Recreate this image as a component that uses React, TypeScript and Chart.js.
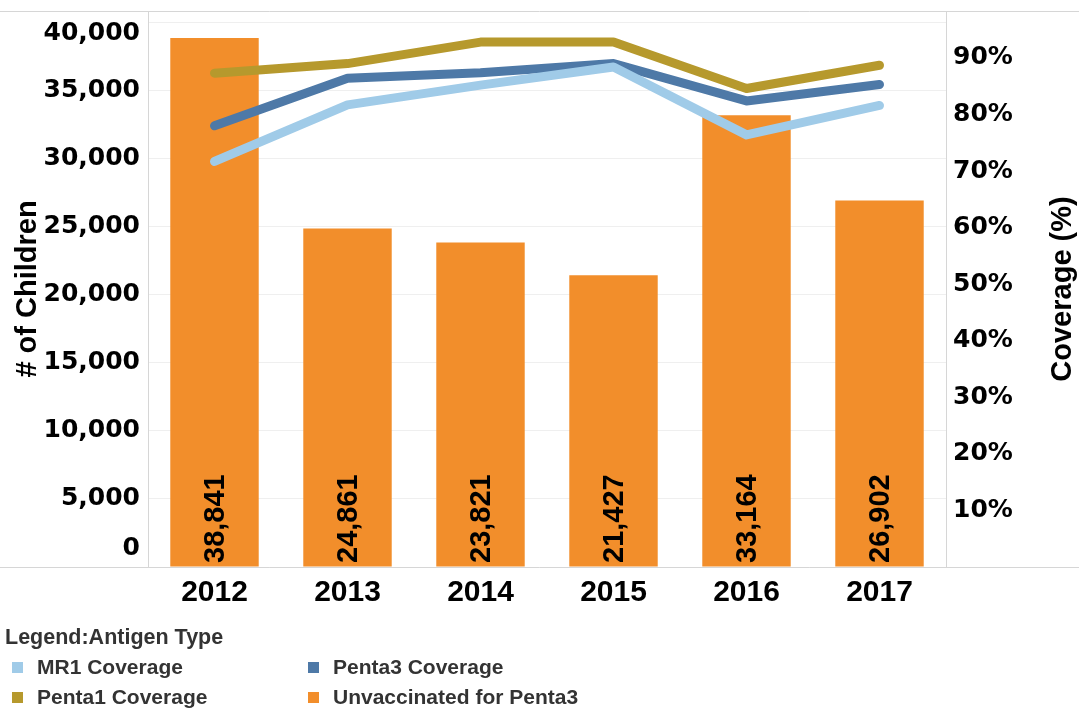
import React, { useEffect, useRef } from 'react';
import { Chart, registerables } from 'chart.js';

Chart.register(...registerables);

const categories = ['2012', '2013', '2014', '2015', '2016', '2017'];
const unvaccinatedPenta3 = [38841, 24861, 23821, 21427, 33164, 26902];
const mr1Coverage = [71.7, 81.7, 85.2, 88.4, 76.4, 81.6];
const penta3Coverage = [78.0, 86.4, 87.4, 89.0, 82.4, 85.3];
const penta1Coverage = [87.3, 89.0, 92.8, 92.8, 84.6, 88.7];

const leftTickValues = [0, 5000, 10000, 15000, 20000, 25000, 30000, 35000, 40000];
const rightTickValues = [10, 20, 30, 40, 50, 60, 70, 80, 90];

const leftAxisTitle = '# of Children';
const rightAxisTitle = 'Coverage (%)';
const legendTitle = 'Legend:Antigen Type';
const legendItems = [
  { label: 'MR1 Coverage', color: '#A0CBE8' },
  { label: 'Penta3 Coverage', color: '#4E79A7' },
  { label: 'Penta1 Coverage', color: '#B6992D' },
  { label: 'Unvaccinated for Penta3', color: '#F28E2B' },
];

const COLORS = {
  bar: '#F28E2B',
  mr1: '#A0CBE8',
  penta3: '#4E79A7',
  penta1: '#B6992D',
  frame: '#d6d6d6',
  grid: '#efefef',
};

const W = 1079;
const H = 708;

const fmt = (v: number) => v.toLocaleString('en-US');

const decorPlugin = {
  id: 'decor',
  beforeDatasetsDraw(chart: any) {
    const { ctx, chartArea } = chart;
    const { left, right, top, bottom } = chartArea;
    ctx.save();
    ctx.strokeStyle = COLORS.frame;
    ctx.lineWidth = 1;
    ctx.beginPath();
    ctx.moveTo(0, top + 0.5);
    ctx.lineTo(W, top + 0.5);
    ctx.moveTo(0, bottom + 0.5);
    ctx.lineTo(W, bottom + 0.5);
    ctx.moveTo(left + 0.5, top);
    ctx.lineTo(left + 0.5, bottom);
    ctx.moveTo(right + 0.5, top);
    ctx.lineTo(right + 0.5, bottom);
    ctx.stroke();
    ctx.restore();
  },
  afterDraw(chart: any) {
    const { ctx, chartArea } = chart;
    const { top, bottom } = chartArea;
    ctx.save();
    // bar value labels
    const meta = chart.getDatasetMeta(3);
    ctx.fillStyle = '#000';
    ctx.font = 'bold 29px "Liberation Sans", Arial, sans-serif';
    ctx.textAlign = 'left';
    ctx.textBaseline = 'middle';
    meta.data.forEach((bar: any, i: number) => {
      ctx.save();
      ctx.translate(bar.x + 1, bottom - 4);
      ctx.rotate(-Math.PI / 2);
      ctx.fillText(fmt(unvaccinatedPenta3[i]), 0, 0);
      ctx.restore();
    });

    // left axis tick labels (clamped inside the plot like the original)
    const yL = chart.scales.yLeft;
    ctx.font = 'bold 25px "DejaVu Sans", sans-serif';
    ctx.textAlign = 'right';
    ctx.textBaseline = 'middle';
    yL.ticks.forEach((t: any) => {
      let y = yL.getPixelForValue(t.value);
      y = Math.max(top + 22, Math.min(bottom - 19, y));
      ctx.fillText(fmt(t.value), 140, y);
    });

    // axis titles
    const midY = (top + bottom) / 2;
    ctx.font = 'bold 29px "Liberation Sans", Arial, sans-serif';
    ctx.textAlign = 'center';
    ctx.textBaseline = 'middle';
    ctx.save();
    ctx.translate(28, midY);
    ctx.rotate(-Math.PI / 2);
    ctx.fillText(leftAxisTitle, 0, 0);
    ctx.restore();
    ctx.save();
    ctx.translate(1063, midY);
    ctx.rotate(-Math.PI / 2);
    ctx.fillText(rightAxisTitle, 0, 0);
    ctx.restore();
    ctx.restore();
  },
};

export default function App() {
  const canvasRef = useRef<HTMLCanvasElement | null>(null);

  useEffect(() => {
    if (!canvasRef.current) return;
    const lineDs = (label: string, data: number[], color: string, order: number) => ({
      type: 'line' as const,
      label,
      data,
      yAxisID: 'yRight',
      borderColor: color,
      backgroundColor: color,
      borderWidth: 9,
      borderCapStyle: 'round' as const,
      borderJoinStyle: 'round' as const,
      pointRadius: 0,
      pointHoverRadius: 0,
      tension: 0,
      fill: false,
      order,
    });

    const chart = new Chart(canvasRef.current, {
      type: 'bar',
      data: {
        labels: categories,
        datasets: [
          lineDs('MR1 Coverage', mr1Coverage, COLORS.mr1, 0),
          lineDs('Penta3 Coverage', penta3Coverage, COLORS.penta3, 1),
          lineDs('Penta1 Coverage', penta1Coverage, COLORS.penta1, 2),
          {
            type: 'bar' as const,
            label: 'Unvaccinated for Penta3',
            data: unvaccinatedPenta3,
            yAxisID: 'yLeft',
            backgroundColor: COLORS.bar,
            borderWidth: 0,
            barPercentage: 0.665,
            categoryPercentage: 1,
            order: 3,
          } as any,
        ],
      },
      options: {
        responsive: false,
        animation: false,
        devicePixelRatio: 1,
        layout: { padding: { top: 11, left: 0, right: 0, bottom: 0 } },
        plugins: {
          legend: { display: false },
          tooltip: { enabled: false },
        },
        events: [],
        scales: {
          x: {
            type: 'category',
            offset: true,
            grid: { display: false, drawTicks: false },
            border: { display: false },
            ticks: {
              color: '#000',
              padding: 8,
              font: { family: '"Liberation Sans", Arial, sans-serif', size: 30, weight: 'bold' },
              maxRotation: 0,
            },
            afterFit: (s: any) => {
              s.height = H - 567;
              s.paddingLeft = 0;
              s.paddingRight = 0;
            },
          },
          yLeft: {
            type: 'linear',
            position: 'left',
            min: 0,
            max: 40822,
            grid: { color: COLORS.grid, drawTicks: false },
            border: { display: false },
            ticks: { display: false },
            afterBuildTicks: (s: any) => {
              s.ticks = leftTickValues.map((v) => ({ value: v }));
            },
            afterFit: (s: any) => {
              s.width = 148;
              s.paddingTop = 0;
              s.paddingBottom = 0;
            },
          },
          yRight: {
            type: 'linear',
            position: 'right',
            min: 0,
            max: 98.3,
            grid: { display: false, drawTicks: false },
            border: { display: false },
            ticks: {
              padding: 7,
              color: '#000',
              font: { family: '"DejaVu Sans", sans-serif', size: 25, weight: 'bold' },
              callback: (v: any) => `${v}%`,
            },
            afterBuildTicks: (s: any) => {
              s.ticks = rightTickValues.map((v) => ({ value: v }));
            },
            afterFit: (s: any) => {
              s.width = W - 946;
              s.paddingTop = 0;
              s.paddingBottom = 0;
            },
          },
        },
      } as any,
      plugins: [decorPlugin],
    });
    return () => chart.destroy();
  }, []);

  const legendFont = 'bold 21px "Liberation Sans", Arial, sans-serif';

  return (
    <div
      style={{
        position: 'fixed',
        left: 0,
        top: 0,
        width: W,
        height: H,
        background: '#fff',
        overflow: 'hidden',
      }}
    >
      <canvas ref={canvasRef} width={W} height={H} style={{ display: 'block', width: W, height: H }} />
      <div
        style={{
          position: 'absolute',
          left: 5,
          top: 624,
          font: 'bold 21.5px "Liberation Sans", Arial, sans-serif',
          color: '#333',
          lineHeight: '26px',
          whiteSpace: 'nowrap',
        }}
      >
        {legendTitle}
      </div>
      {legendItems.map((it, i) => {
        const col = i % 2;
        const row = Math.floor(i / 2);
        const x = col === 0 ? 12 : 308;
        const y = 667 + row * 30;
        return (
          <div
            key={it.label}
            style={{
              position: 'absolute',
              left: x,
              top: y - 15,
              height: 30,
              display: 'flex',
              alignItems: 'center',
              whiteSpace: 'nowrap',
            }}
          >
            <span style={{ display: 'inline-block', width: 11, height: 11, background: it.color, marginRight: 14 }} />
            <span style={{ font: legendFont, color: '#333' }}>{it.label}</span>
          </div>
        );
      })}
    </div>
  );
}
